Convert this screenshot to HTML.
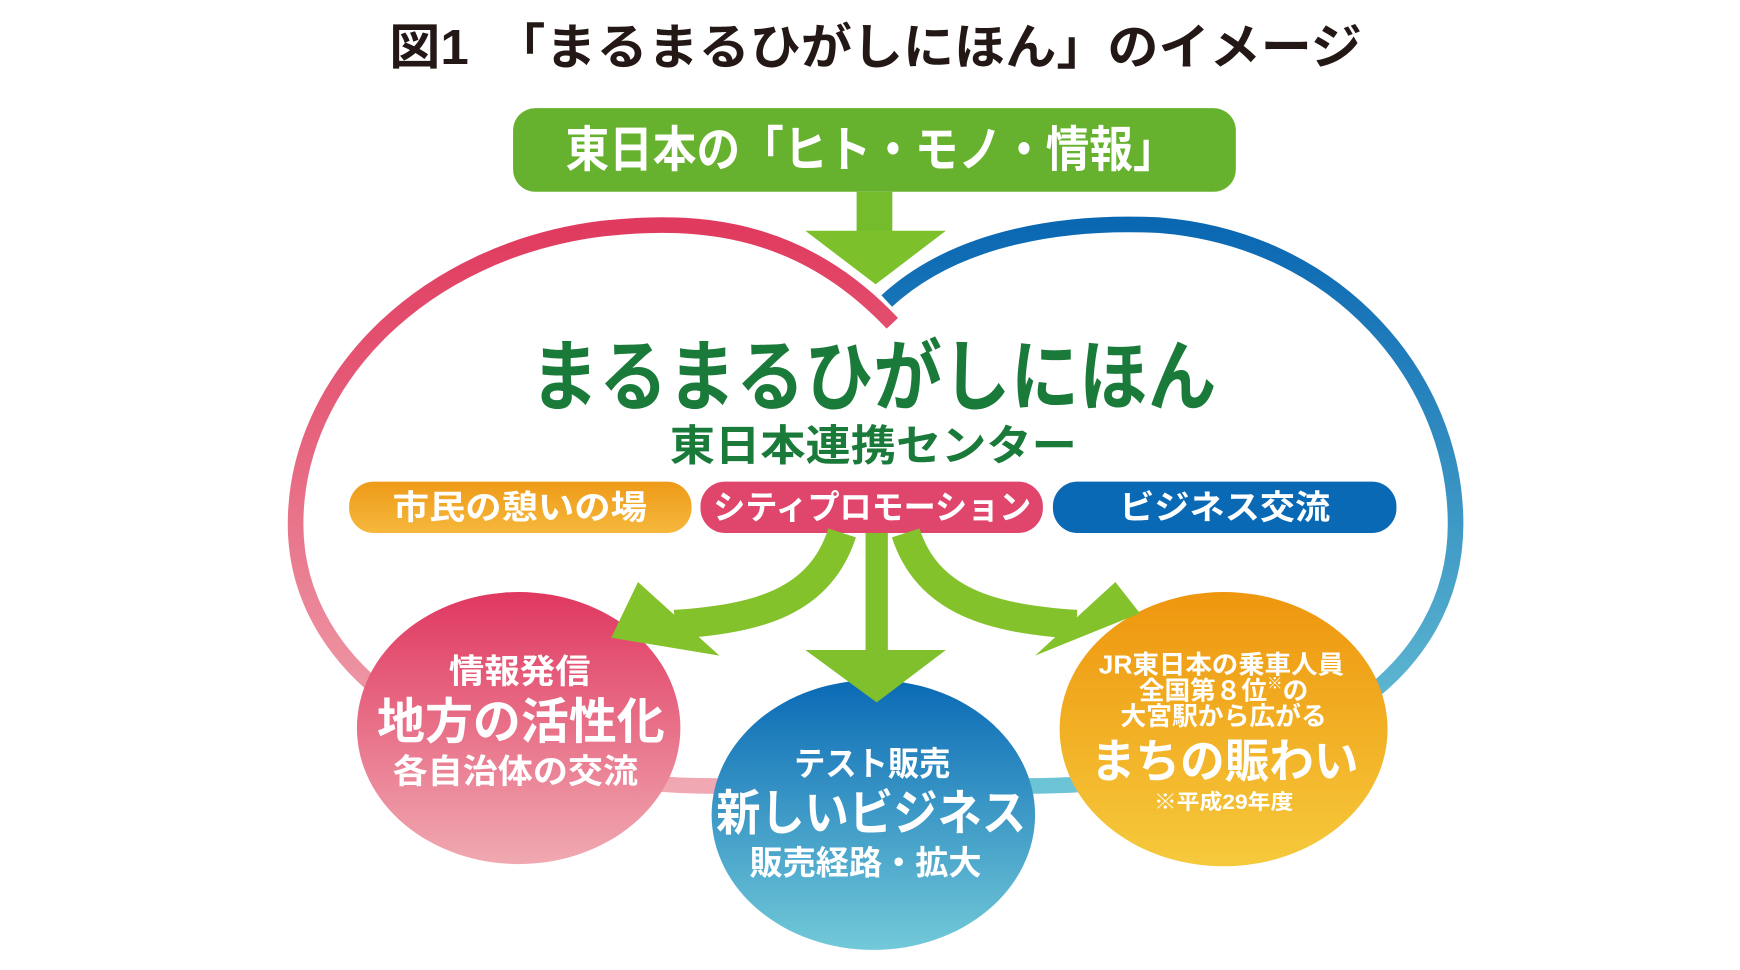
<!DOCTYPE html>
<html><head><meta charset="utf-8"><style>
html,body{margin:0;padding:0;background:#fff;}
svg{display:block;}
text{font-family:"Liberation Sans","Noto Sans CJK JP",sans-serif;font-weight:700;text-anchor:middle;dominant-baseline:central;}
</style></head><body>
<svg width="1740" height="970" viewBox="0 0 1560 870" preserveAspectRatio="none" xmlns="http://www.w3.org/2000/svg">
<defs>
<linearGradient id="pk" x1="0" y1="0" x2="0" y2="1"><stop offset="0" stop-color="#e03a5e"/><stop offset="1" stop-color="#f0a8b2"/></linearGradient>
<linearGradient id="bl" x1="0" y1="0" x2="0" y2="1"><stop offset="0" stop-color="#0a67b2"/><stop offset="1" stop-color="#6cc4d6"/></linearGradient>
<linearGradient id="pkB" x1="0" y1="0" x2="0" y2="1"><stop offset="0" stop-color="#e03860"/><stop offset="1" stop-color="#f0a9b1"/></linearGradient>
<linearGradient id="blB" x1="0" y1="0" x2="0" y2="1"><stop offset="0" stop-color="#0a6ab5"/><stop offset="1" stop-color="#72c9d8"/></linearGradient>
<linearGradient id="orB" x1="0" y1="0" x2="0" y2="1"><stop offset="0" stop-color="#ee960e"/><stop offset="1" stop-color="#f6c93c"/></linearGradient>
<linearGradient id="orP" x1="0" y1="0" x2="0" y2="1"><stop offset="0" stop-color="#ee9a18"/><stop offset="1" stop-color="#f6b83c"/></linearGradient>
</defs>
<text x="785" y="43" font-size="44" fill="#231815" textLength="872" lengthAdjust="spacingAndGlyphs">図1　「まるまるひがしにほん」のイメージ</text>
<rect x="460" y="97" width="648" height="75" rx="20" fill="#66b22e"/>
<text x="781" y="135" font-size="44" fill="#fff" textLength="548" lengthAdjust="spacingAndGlyphs">東日本の「ヒト・モノ・情報」</text>
<path d="M800,290 C720,205 630,195 540,205 C380,225 265,340 265,470 C265,600 400,705 645,705" fill="none" stroke="url(#pk)" stroke-width="14"/>
<path d="M795,270 C860,210 960,198 1040,202 C1200,215 1305,340 1305,470 C1305,600 1180,705 915,705" fill="none" stroke="url(#bl)" stroke-width="14"/>
<rect x="768" y="172" width="32" height="40" fill="#74bc2c"/>
<polygon points="722,207 848,207 785,255" fill="#7cc12c"/>
<text x="783" y="338" font-size="70" fill="#1a7a3a" textLength="615" lengthAdjust="spacingAndGlyphs">まるまるひがしにほん</text>
<text x="783" y="400" font-size="38" fill="#1a7a3a" textLength="365" lengthAdjust="spacingAndGlyphs">東日本連携センター</text>
<rect x="313" y="432" width="307" height="46" rx="22" fill="url(#orP)"/>
<rect x="628" y="432" width="307" height="46" rx="22" fill="#e0466b"/>
<rect x="944" y="432" width="308" height="46" rx="22" fill="#0a69b4"/>
<text x="466" y="456" font-size="30" fill="#fff" textLength="228" lengthAdjust="spacingAndGlyphs">市民の憩いの場</text>
<text x="782" y="456" font-size="30" fill="#fff" textLength="285" lengthAdjust="spacingAndGlyphs">シティプロモーション</text>
<text x="1098" y="456" font-size="30" fill="#fff" textLength="189" lengthAdjust="spacingAndGlyphs">ビジネス交流</text>
<ellipse cx="465" cy="653" rx="145" ry="122" fill="url(#pkB)"/>
<ellipse cx="783" cy="731" rx="145" ry="121" fill="url(#blB)"/>
<ellipse cx="1097" cy="654" rx="147" ry="123" fill="url(#orB)"/>
<path d="M755,478 C735,540 680,555 605,560" fill="none" stroke="#84c22c" stroke-width="26"/>
<polygon points="572,522 548,572 645,588" fill="#84c22c"/>
<path d="M812,478 C832,540 890,555 965,560" fill="none" stroke="#84c22c" stroke-width="26"/>
<polygon points="1000,522 1022,550 928,588" fill="#84c22c"/>
<rect x="776" y="478" width="20" height="108" fill="#80c02c"/>
<polygon points="722,583 848,583 786,630" fill="#80c02c"/>
<text x="466" y="603" font-size="30" fill="#fff" textLength="127" lengthAdjust="spacingAndGlyphs">情報発信</text>
<text x="467" y="648" font-size="44" fill="#fff" textLength="258" lengthAdjust="spacingAndGlyphs">地方の活性化</text>
<text x="462" y="693" font-size="30" fill="#fff" textLength="220" lengthAdjust="spacingAndGlyphs">各自治体の交流</text>
<text x="782" y="686" font-size="30" fill="#fff" textLength="140" lengthAdjust="spacingAndGlyphs">テスト販売</text>
<text x="781" y="730" font-size="44" fill="#fff" textLength="278" lengthAdjust="spacingAndGlyphs">新しいビジネス</text>
<text x="776" y="775" font-size="30" fill="#fff" textLength="208" lengthAdjust="spacingAndGlyphs">販売経路・拡大</text>
<text x="1095" y="597" font-size="23" fill="#fff" textLength="220" lengthAdjust="spacingAndGlyphs">JR東日本の乗車人員</text>
<text x="1097" y="620" font-size="23" fill="#fff">全国第８位<tspan font-size="14" dy="-7">※</tspan><tspan dy="7">の</tspan></text>
<text x="1097" y="643" font-size="23" fill="#fff" textLength="185" lengthAdjust="spacingAndGlyphs">大宮駅から広がる</text>
<text x="1098" y="683" font-size="42" fill="#fff" textLength="240" lengthAdjust="spacingAndGlyphs">まちの賑わい</text>
<text x="1097" y="720" font-size="19" fill="#fff" textLength="125" lengthAdjust="spacingAndGlyphs">※平成29年度</text>
</svg>
</body></html>
